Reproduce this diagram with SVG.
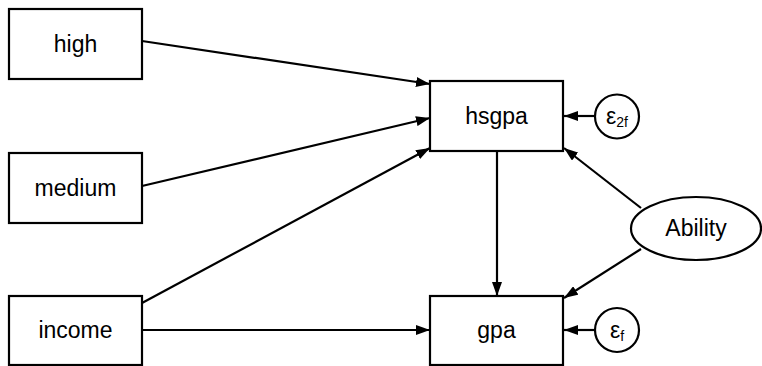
<svg xmlns="http://www.w3.org/2000/svg" width="762" height="366" viewBox="0 0 762 366">
  <style>
    .box { fill: #fff; stroke: #000; stroke-width: 2.2; }
    .lat { fill: #fff; stroke: #000; stroke-width: 2.2; }
    .lbl { font-family: "Liberation Sans", Arial, sans-serif; font-size: 23px; fill: #000; text-anchor: middle; }
    .sub { font-size: 14px; }
    .edge { stroke: #000; stroke-width: 2.2; fill: none; marker-end: url(#arr); }
  </style>
  <defs>
    <marker id="arr" viewBox="0 0 14 10" refX="14" refY="5" markerWidth="14" markerHeight="10" markerUnits="userSpaceOnUse" orient="auto">
      <path d="M0,0 L14,5 L0,10 Z" fill="#000"/>
    </marker>
  </defs>
  <rect width="762" height="366" fill="#fff"/>

  <g id="connectors">
    <line class="edge" x1="142" y1="41" x2="430" y2="84"/>
    <line class="edge" x1="142" y1="186" x2="430" y2="118"/>
    <line class="edge" x1="142" y1="303" x2="430" y2="148"/>
    <line class="edge" x1="142" y1="330" x2="430" y2="330"/>
    <line class="edge" x1="497" y1="151" x2="497" y2="296"/>
    <line class="edge" x1="641" y1="208" x2="564" y2="148"/>
    <line class="edge" x1="641" y1="249" x2="564" y2="298"/>
    <line class="edge" x1="595" y1="116" x2="564" y2="116"/>
    <line class="edge" x1="595" y1="330" x2="564" y2="330"/>
  </g>

  <g id="high">
    <rect class="box" x="9" y="9" width="133" height="70"/>
    <text class="lbl" x="75.5" y="52">high</text>
  </g>
  <g id="medium">
    <rect class="box" x="9" y="153" width="133" height="70"/>
    <text class="lbl" x="75.5" y="196">medium</text>
  </g>
  <g id="income">
    <rect class="box" x="9" y="296" width="133" height="69"/>
    <text class="lbl" x="75.5" y="338">income</text>
  </g>
  <g id="hsgpa">
    <rect class="box" x="430" y="81" width="133" height="70"/>
    <text class="lbl" x="496.5" y="124">hsgpa</text>
  </g>
  <g id="gpa">
    <rect class="box" x="430" y="296" width="133" height="69"/>
    <text class="lbl" x="496.5" y="338">gpa</text>
  </g>
  <g id="e2f">
    <circle class="lat" cx="617" cy="116.5" r="22"/>
    <text class="lbl" x="617" y="124">ε<tspan class="sub" dy="3">2f</tspan></text>
  </g>
  <g id="ef">
    <circle class="lat" cx="617" cy="330" r="22"/>
    <text class="lbl" x="617" y="338">ε<tspan class="sub" dy="3">f</tspan></text>
  </g>
  <g id="Ability">
    <ellipse class="lat" cx="696" cy="228.5" rx="65" ry="31.5"/>
    <text class="lbl" x="696" y="236">Ability</text>
  </g>
</svg>
